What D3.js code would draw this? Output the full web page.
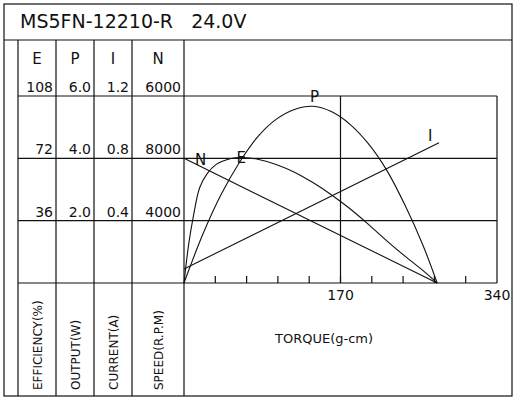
<!DOCTYPE html><html><head><meta charset="utf-8">
<script src="https://cdn.jsdelivr.net/npm/d3@7"></script>
<style>body{margin:0;background:#fff}text{font-family:"DejaVu Sans",sans-serif;fill:#111}</style></head><body>
<svg id="c" width="516" height="400"></svg>
<script>
const title = "MS5FN-12210-R   24.0V";
const colHeads = ["E","P","I","N"];
const effTicks = ["108","72","36"];
const powTicks = ["6.0","4.0","2.0"];
const curTicks = ["1.2","0.8","0.4"];
const spdTicks = ["6000","8000","4000"];
const gridVals = [108,72,36,0];
const xTickLabels = [170,340];
const axisNames = ["EFFICIENCY(%)","OUTPUT(W)","CURRENT(A)","SPEED(R.P.M)"];
const torque = [0,5,10,17,25,35,50,64,80,100,120,140,160,180,200,220,240,260,275];
const effVals = [0,22,38,55,63,68.5,71.8,72.5,71.5,68.5,64,58,51,43,34,24.5,15.5,7,0];
const powT = [0,20,40,60,80,100,120,140,160,180,200,220,240,260,275];
const powVals = [0,1.53,2.82,3.86,4.69,5.25,5.57,5.67,5.5,5.1,4.48,3.63,2.5,1.18,0];
const curT = [0,277];
const curVals = [0.09,0.9];
const spdT = [0,275];
const spdVals = [8000,0];

const svg=d3.select("#c");
const x=d3.scaleLinear().domain([0,340]).range([184,497]);
const y=d3.scaleLinear().domain([0,108]).range([283,96]);
const yP=d3.scaleLinear().domain([0,6]).range([283,96]);
const yI=d3.scaleLinear().domain([0,1.2]).range([283,96]);
const yN=d3.scaleLinear().domain([0,12000]).range([283,96]);
const L=(a,b,c,d)=>svg.append("line").attr("x1",a).attr("y1",b).attr("x2",c).attr("y2",d).attr("stroke","#111").attr("stroke-width",1.2);
svg.append("rect").attr("x",4).attr("y",4).attr("width",508).attr("height",392).attr("fill","none").attr("stroke","#111").attr("stroke-width",1.2);
svg.append("text").attr("x",20).attr("y",28).attr("font-size",19).attr("xml:space","preserve").style("white-space","pre").text(title);
L(4,40,512,40);
const cols=[18,56,94,132,184];
cols.forEach(c=>L(c,40,c,396));
gridVals.forEach(v=>L(18,y(v),497,y(v)));
L(x(340),y(108),x(340),y(0));
L(x(170),y(108),x(170),y(0));
d3.range(34,340,34).forEach(t=>L(x(t),y(0),x(t),y(0)-7));
colHeads.forEach((h,i)=>svg.append("text").attr("x",(cols[i]+cols[i+1])/2).attr("y",64).attr("text-anchor","middle").attr("font-size",15).text(h));
[effTicks,powTicks,curTicks,spdTicks].forEach((arr,i)=>arr.forEach((t,j)=>svg.append("text").attr("x",cols[i+1]-3).attr("y",y(gridVals[j])-4).attr("text-anchor","end").attr("font-size",14).text(t)));
xTickLabels.forEach(t=>svg.append("text").attr("x",x(t)).attr("y",300).attr("text-anchor","middle").attr("font-size",14).text(t));
axisNames.forEach((n,i)=>svg.append("text").attr("transform",`translate(${(cols[i]+cols[i+1])/2+5},390) rotate(-90)`).attr("font-size",12).text(n));
svg.append("text").attr("x",275).attr("y",343).attr("font-size",13).text("TORQUE(g-cm)");
const line=(ts,vs,ys)=>svg.append("path").attr("d",d3.line().curve(d3.curveCatmullRom).x((d,i)=>x(ts[i])).y(d=>ys(d))(vs)).attr("fill","none").attr("stroke","#111").attr("stroke-width",1.1);
line(torque,effVals,y);line(powT,powVals,yP);line(curT,curVals,yI);line(spdT,spdVals,yN);
const lab=(t,xx,yy)=>svg.append("text").attr("x",xx).attr("y",yy).attr("font-size",15).text(t);
lab("P",x(137),y(103)-3);lab("E",x(57),y(72)+5);lab("N",x(12),y(68));lab("I",x(265),y(81)-2);
</script></body></html>
